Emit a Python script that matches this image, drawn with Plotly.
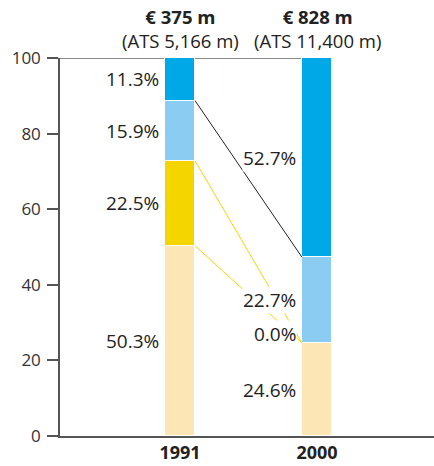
import plotly.graph_objects as go

years = ["1991", "2000"]
headline_eur = ["€ 375 m", "€ 828 m"]
headline_ats = ["(ATS 5,166 m)", "(ATS 11,400 m)"]

# shares per year, bottom to top
share_base = [50.3, 24.6]
share_yellow = [22.5, 0.0]
share_light = [15.9, 22.7]
share_blue = [11.3, 52.7]

colors = ["#FCE6B6", "#F5D500", "#8ACCF2", "#00A8E8"]
series = [share_base, share_yellow, share_light, share_blue]

xpos = [0, 1]
bar_w = 0.22
x_range = [-0.876, 1.854]
FONT = "Open Sans"

fig = go.Figure()

for vals, col in zip(series, colors):
    fig.add_trace(go.Bar(
        x=xpos, y=vals, width=bar_w, marker_color=col,
        marker_line_color="white", marker_line_width=1.2,
        hoverinfo="skip", showlegend=False,
    ))

# cumulative tops for each stack level
cum = []
run = [0.0, 0.0]
for vals in series:
    run = [r + v for r, v in zip(run, vals)]
    cum.append(list(run))

x_left_end = xpos[0] + bar_w / 2
x_right_start = xpos[1] - bar_w / 2

# connectors: yellow segment edges and the bottom of the blue segment
connectors = [
    (cum[0][0], cum[0][1], "#F5D500"),   # bottom of yellow
    (cum[1][0], cum[1][1], "#F5D500"),   # top of yellow
    (cum[2][0], cum[2][1], "#222222"),   # bottom of blue
]
for y0, y1, col in connectors:
    fig.add_trace(go.Scatter(
        x=[x_left_end, x_right_start], y=[y0, y1], mode="lines",
        line=dict(color=col, width=1), hoverinfo="skip", showlegend=False,
    ))

# percentage labels to the left of each bar
label_font = dict(family=FONT, size=19, color="#222222")
for i, x in enumerate(xpos):
    lower = 0.0
    for k, vals in enumerate(series):
        v = vals[i]
        center = lower + v / 2
        yshift = 9 if v == 0 else 0
        fig.add_annotation(
            x=x - bar_w / 2, y=center, xref="x", yref="y",
            text=f"{v:.1f}%", showarrow=False, xanchor="right",
            xshift=-5, yshift=yshift, font=label_font,
            bgcolor="white", borderpad=0,
        )
        lower += v

# headline totals above the bars
for x, eur, ats in zip(xpos, headline_eur, headline_ats):
    fig.add_annotation(
        x=x, y=1, xref="x", yref="paper", yanchor="bottom", yshift=3,
        text=f"<b>{eur}</b><br>{ats}", showarrow=False, align="center",
        font=dict(family=FONT, size=18.5, color="#222222"),
    )

# rule along the 100 level
fig.add_shape(
    type="line", xref="x", yref="y",
    x0=x_range[0], x1=xpos[1] + bar_w / 2, y0=100, y1=100,
    line=dict(color="#666666", width=1.5), layer="below",
)

fig.update_layout(
    width=434, height=466,
    margin=dict(l=60, r=0, t=58, b=30),
    paper_bgcolor="white", plot_bgcolor="white",
    barmode="stack", bargap=0,
)
fig.update_xaxes(
    range=x_range, tickvals=xpos,
    ticktext=[f"<b>{y}</b>" for y in years],
    tickfont=dict(family=FONT, size=18, color="#222222"),
    showgrid=False, zeroline=False, showline=True,
    linecolor="#555555", linewidth=1.5, ticks="",
)
fig.update_yaxes(
    range=[0, 100], tickvals=[0, 20, 40, 60, 80, 100],
    tickfont=dict(family=FONT, size=17, color="#333333"),
    showgrid=False, zeroline=False, showline=True,
    linecolor="#555555", linewidth=1.5,
    ticks="outside", ticklen=11, tickcolor="#555555", tickwidth=1.5,
    ticklabelstandoff=3,
)

fig.write_html("out.html")
